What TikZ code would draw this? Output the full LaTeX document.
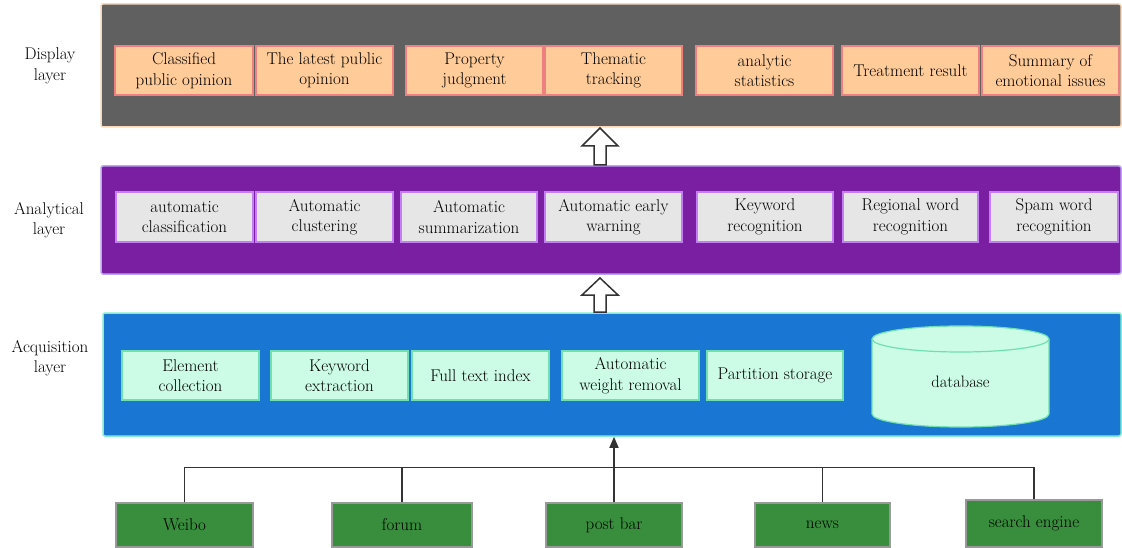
\documentclass[tikz,border=0pt]{standalone}
\usetikzlibrary{arrows.meta}
\definecolor{dispbg}{HTML}{606060}
\definecolor{dispbd}{HTML}{F7D8B8}
\definecolor{dboxf}{HTML}{FFCC99}
\definecolor{dboxd}{HTML}{EE8080}
\definecolor{anabg}{HTML}{7B1FA2}
\definecolor{anabd}{HTML}{B9A6F2}
\definecolor{aboxf}{HTML}{E6E6E6}
\definecolor{aboxd}{HTML}{C27EF2}
\definecolor{acqbg}{HTML}{1976D2}
\definecolor{acqbd}{HTML}{80EEC8}
\definecolor{qboxf}{HTML}{CCFCE6}
\definecolor{qboxd}{HTML}{70E0B0}
\definecolor{srcf}{HTML}{388E3C}
\definecolor{srcd}{HTML}{999999}
\definecolor{txt}{HTML}{000000}
\definecolor{conc}{HTML}{333333}
\begin{document}
\begin{tikzpicture}[x=1pt,y=-1pt,
  every node/.style={font=\fontsize{17}{20.5}\selectfont, text=txt, align=center, inner sep=0pt},
  layer/.style={draw, line width=1.5pt, rounded corners=2pt},
  dbox/.style={draw=dboxd, fill=dboxf, line width=1.5pt, minimum height=49pt},
  abox/.style={draw=aboxd, fill=aboxf, line width=1.5pt, minimum height=50pt},
  qbox/.style={draw=qboxd, fill=qboxf, line width=1.5pt, minimum height=49pt},
  sbox/.style={draw=srcd, fill=srcf, line width=1.5pt, minimum height=44pt},
  conn/.style={draw=conc, line width=1.6pt},
  hollow/.style={draw=conc, fill=white, line width=1.5pt, line join=miter}
]
\useasboundingbox (0,0) rectangle (1122,548);

% layers
\node[layer, draw=dispbd, fill=dispbg, minimum width=1020pt, minimum height=123pt] (L1) at (611,65.5) {};
\node[layer, draw=anabd, fill=anabg, minimum width=1020pt, minimum height=108pt] (L2) at (611,220) {};
\node[layer, draw=acqbd, fill=acqbg, minimum width=1018pt, minimum height=123pt] (L3) at (612,374.5) {};

% layer labels
\node (t1) at (50,66) {Display\\layer};
\node (t2) at (49,220) {Analytical\\layer};
\node (t3) at (50,358) {Acquisition\\layer};

% display boxes
\node[dbox, minimum width=138pt] (d1) at (184,70.5) {Classified\\public opinion};
\node[dbox, minimum width=137pt] (d2) at (324.5,70.5) {The latest public\\opinion};
\node[dbox, minimum width=137pt] (d3) at (474.5,70.5) {Property\\judgment};
\node[dbox, minimum width=137pt] (d4) at (613.5,70.5) {Thematic\\tracking};
\node[dbox, minimum width=137pt] (d5) at (764.5,70.5) {analytic\\statistics};
\node[dbox, minimum width=137pt] (d6) at (910.5,70.5) {Treatment result};
\node[dbox, minimum width=137pt] (d7) at (1050.5,70.5) {Summary of\\emotional issues};

% analytical boxes
\node[abox, minimum width=137pt] (a1) at (184.5,217) {automatic\\classification};
\node[abox, minimum width=137pt] (a2) at (324.5,217) {Automatic\\clustering};
\node[abox, minimum width=136pt] (a3) at (469,217) {Automatic\\summarization};
\node[abox, minimum width=137pt] (a4) at (613.5,217) {Automatic early\\warning};
\node[abox, minimum width=136pt] (a5) at (765,217) {Keyword\\recognition};
\node[abox, minimum width=135pt] (a6) at (910.5,217) {Regional word\\recognition};
\node[abox, minimum width=128pt] (a7) at (1054,217) {Spam word\\recognition};

% acquisition boxes
\node[qbox, minimum width=137pt] (q1) at (190.5,375.5) {Element\\collection};
\node[qbox, minimum width=137pt] (q2) at (339.5,375.5) {Keyword\\extraction};
\node[qbox, minimum width=137pt] (q3) at (480.5,375.5) {Full text index};
\node[qbox, minimum width=137pt] (q4) at (630.5,375.5) {Automatic\\weight removal};
\node[qbox, minimum width=136pt] (q5) at (775,375.5) {Partition storage};

% database cylinder
\path[draw=qboxd, fill=qboxf, line width=1.2pt]
  (872,339) -- (872,414) arc[start angle=180, end angle=360, x radius=88.5pt, y radius=13pt]
  -- (1049,339) arc[start angle=0, end angle=180, x radius=88.5pt, y radius=13pt] -- cycle;
\draw[draw=qboxd, line width=1.2pt] (872,339) arc[start angle=180, end angle=360, x radius=88.5pt, y radius=13pt];
\node[font=\fontsize{16.5}{19}\selectfont] (db) at (960.5,382) {database};

% hollow arrows between layers
\path[hollow] (600,128) -- (618,146) -- (606,146) -- (606,165) -- (594,165) -- (594,146) -- (582,146) -- cycle;
\path[hollow] (600,278) -- (618,295) -- (606,295) -- (606,312) -- (594,312) -- (594,295) -- (582,295) -- cycle;

% sources
\node[sbox, minimum width=137pt] (s1) at (184.5,525) {Weibo};
\node[sbox, minimum width=140pt] (s2) at (402,525) {forum};
\node[sbox, minimum width=136pt] (s3) at (614,525) {post bar};
\node[sbox, minimum width=135pt] (s4) at (822.5,525) {news};
\node[sbox, minimum width=136pt, minimum height=47pt] (s5) at (1034,523.5) {search engine};

% connectors
\coordinate (j) at (614,467.5);
\draw[conn] (s1.north) |- (j);
\draw[conn] (s2.north) |- (j);
\draw[conn] (s4.north) |- (j);
\draw[conn] (s5.north) |- (j);
\draw[conn, -{Triangle[length=11pt,width=9pt]}] (s3.north) -- (s3.north |- L3.south);
\end{tikzpicture}
\end{document}
